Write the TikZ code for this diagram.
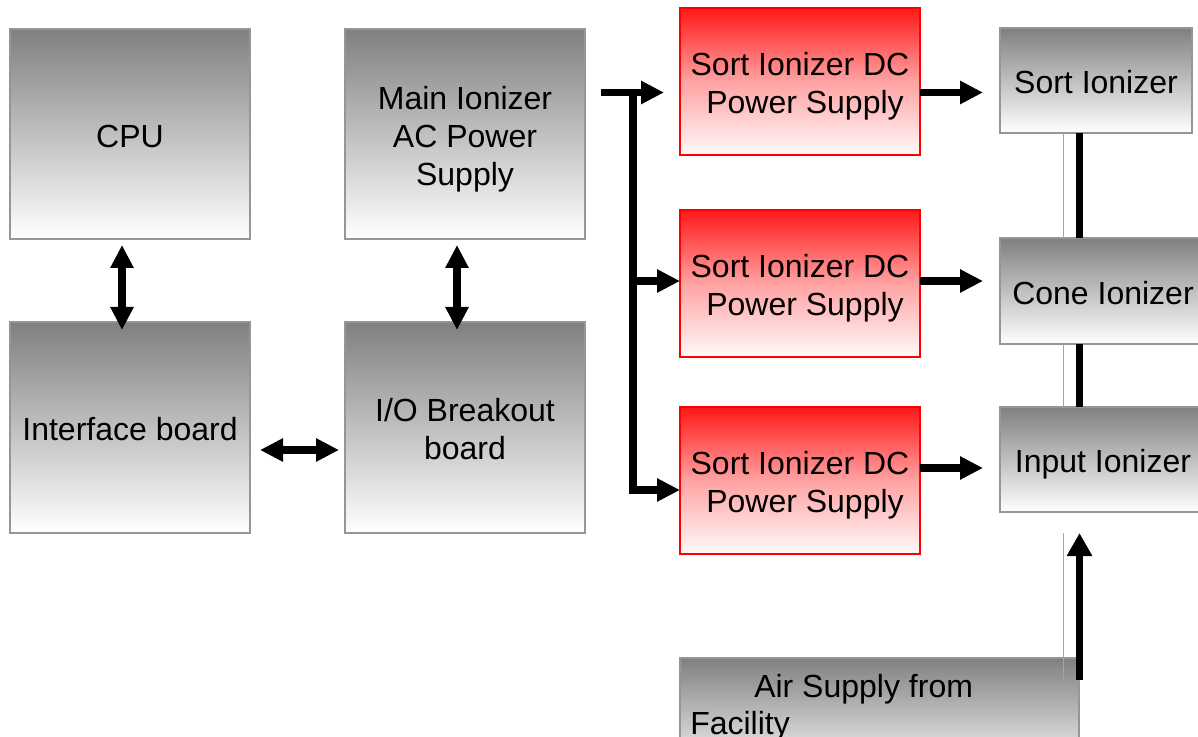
\documentclass[tikz,border=0pt]{standalone}
\usepackage{fontspec}
\setmainfont{Liberation Sans}
\usetikzlibrary{arrows.meta,calc}

% one drawing unit = one pixel of a 1198 x 737 sheet
\def\pxu{0.75pt}
\definecolor{shadegray}{RGB}{128,128,128}
\definecolor{edgegray}{RGB}{150,150,150}
\definecolor{wiregray}{RGB}{165,165,165}
\definecolor{shadered}{RGB}{255,24,24}
\definecolor{midred}{RGB}{255,162,162}
\definecolor{palered}{RGB}{255,250,250}
\newcommand\labelfont{\fontsize{24pt}{28.5pt}\selectfont}
% fixed ascent on the first line and descent on the last one,
% so every label sits the same way in its box
\newcommand\topstrut{\rule{0pt}{24.9pt}}
\newcommand\lastlinestrut{\rule[-5.1pt]{0pt}{0pt}}

\tikzset{
  box/.style={line width=1.5pt, inner sep=0pt, outer sep=0pt, align=center, font=\labelfont,
    execute at end node=\lastlinestrut},
  graybox/.style={box, draw=edgegray, top color=shadegray, bottom color=white},
  redbox/.style={box, draw=red, top color=shadered, bottom color=palered, middle color=midred},
  boxsize/.style 2 args={minimum width={#1*\pxu}, minimum height={#2*\pxu}},
  flow/.style={line width=5.6pt, -{Triangle[length=17.25pt,width=16.5pt]}},
  flowboth/.style={line width=5.6pt, {Triangle[length=17.25pt,width=16.5pt]}-{Triangle[length=17.25pt,width=16.5pt]}},
  bus/.style={line width=5.6pt},
  wire/.style={draw=wiregray, line width=1.1pt},
}

\begin{document}
\begin{tikzpicture}[x=0.75pt,y=-0.75pt]
\useasboundingbox (0,0) rectangle (1198,737);
\clip (0,0) rectangle (1198,737);

% ionizer chain coordinates
\coordinate (riser) at (1079.5,0);
\coordinate (wireline) at (1063.5,0);

% control boards
\node[graybox, boxsize={240}{210}] (cpu)   at (130,134)   {\topstrut CPU};
\node[graybox, boxsize={240}{211}] (iface) at (130,427.5) {\topstrut Interface board};
\node[graybox, boxsize={240}{210}] (main)  at (465,134)   {\topstrut Main Ionizer\\AC Power\\Supply};
\node[graybox, boxsize={240}{211}] (io)    at (465,427.5) {\topstrut I/O Breakout\\board};

% DC supplies
\node[redbox, boxsize={240}{147}] (red1) at (800,81.5)  {\topstrut Sort Ionizer DC\\\hspace*{7.5pt}Power Supply};
\node[redbox, boxsize={240}{147}] (red2) at (800,283.5) {\topstrut Sort Ionizer DC\\\hspace*{7.5pt}Power Supply};
\node[redbox, boxsize={240}{147}] (red3) at (800,480.5) {\topstrut Sort Ionizer DC\\\hspace*{7.5pt}Power Supply};

% ionizers
\node[graybox, boxsize={192}{105}] (sort)  at (1096,80.5)  {\topstrut Sort Ionizer};
\node[graybox, boxsize={206}{106}] (cone)  at (1103,291)   {\topstrut Cone Ionizer};
\node[graybox, boxsize={206}{105}] (input) at (1103,459.5) {\topstrut Input Ionizer};

% links between ionizers
\draw[wire] (sort.south -| wireline) -- (cone.north -| wireline);
\draw[wire] (cone.south -| wireline) -- (input.north -| wireline);
\draw[bus] (sort.south -| riser) -- (cone.north -| riser);
\draw[bus] (cone.south -| riser) -- (input.north -| riser);

% air supply
\node[graybox, boxsize={399}{120}, execute at end node={}] (air) at (879.5,718) {};
\node[anchor=north west, align=left, inner sep=0pt, font=\fontsize{24pt}{27.75pt}\selectfont]
  (airtext) at ($(air.north west)+(10,16)$) {\hspace*{48pt}Air Supply from\\Facility};
\draw[wire] ($(input.south -| wireline)+(0,21)$) -- ($(air.north -| wireline)+(0,22)$);
\draw[line width=5.6pt, -{Triangle[length=17.25pt,width=18pt]}]
  ($(air.north -| riser)+(0,22)$) -- ($(input.south -| riser)+(0,21)$);

% board connections
\draw[flowboth] ($(cpu.south)+(-8,6)$) -- ($(iface.north)+(-8,8)$);
\draw[flowboth] ($(main.south)+(-8,6)$) -- ($(io.north)+(-8,8)$);
\draw[flowboth] ($(iface.east)+(10,22.5)$) -- ($(io.west)+(-6,22.5)$);

% AC feed to the DC supplies
\coordinate (feed) at (601,92.5);
\coordinate (tee) at (633,92.5);
\coordinate (b2) at ($(red2.west)+(0,-2.5)$);
\draw[flow] (feed) -- ($(feed -| red1.west)+(-16,0)$);
\draw[flow] (tee) |- ($(red3.west)+(0,9.5)$);
\draw[flow] (tee |- b2) -- (b2);

% DC supplies to ionizers
\draw[flow] ($(red1.east)+(0,11)$) -- ($(sort.west)+(-17,12)$);
\draw[flow] ($(red2.east)+(0,-2.5)$) -- ($(cone.west)+(-17,-10)$);
\draw[flow] ($(red3.east)+(0,-12.5)$) -- ($(input.west)+(-17,8.5)$);
\end{tikzpicture}
\end{document}
